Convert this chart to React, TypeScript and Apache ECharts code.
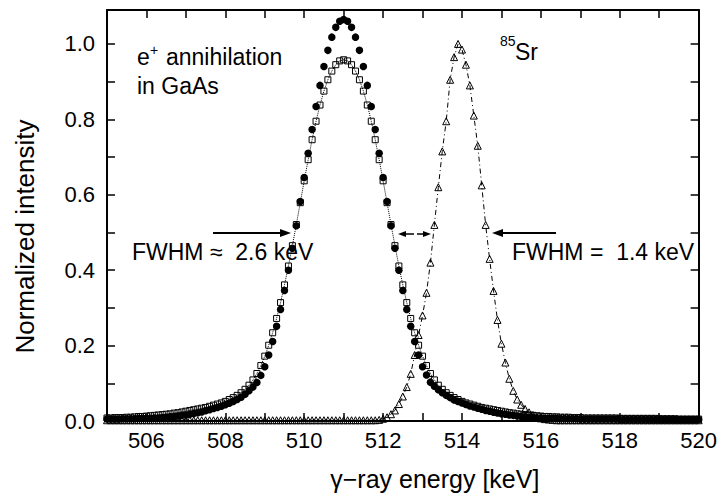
import React, { useEffect, useRef } from "react";
import * as echarts from "echarts";

// γ-ray energy channels [keV]
const energies = [
  505.0, 505.1, 505.2, 505.3, 505.4, 505.5, 505.6, 505.7, 505.8, 505.9,
  506.0, 506.1, 506.2, 506.3, 506.4, 506.5, 506.6, 506.7, 506.8, 506.9,
  507.0, 507.1, 507.2, 507.3, 507.4, 507.5, 507.6, 507.7, 507.8, 507.9,
  508.0, 508.1, 508.2, 508.3, 508.4, 508.5, 508.6, 508.7, 508.8, 508.9,
  509.0, 509.1, 509.2, 509.3, 509.4, 509.5, 509.6, 509.7, 509.8, 509.9,
  510.0, 510.1, 510.2, 510.3, 510.4, 510.5, 510.6, 510.7, 510.8, 510.9,
  511.0, 511.1, 511.2, 511.3, 511.4, 511.5, 511.6, 511.7, 511.8, 511.9,
  512.0, 512.1, 512.2, 512.3, 512.4, 512.5, 512.6, 512.7, 512.8, 512.9,
  513.0, 513.1, 513.2, 513.3, 513.4, 513.5, 513.6, 513.7, 513.8, 513.9,
  514.0, 514.1, 514.2, 514.3, 514.4, 514.5, 514.6, 514.7, 514.8, 514.9,
  515.0, 515.1, 515.2, 515.3, 515.4, 515.5, 515.6, 515.7, 515.8, 515.9,
  516.0, 516.1, 516.2, 516.3, 516.4, 516.5, 516.6, 516.7, 516.8, 516.9,
  517.0, 517.1, 517.2, 517.3, 517.4, 517.5, 517.6, 517.7, 517.8, 517.9,
  518.0, 518.1, 518.2, 518.3, 518.4, 518.5, 518.6, 518.7, 518.8, 518.9,
  519.0, 519.1, 519.2, 519.3, 519.4, 519.5, 519.6, 519.7, 519.8, 519.9,
  520.0,
];

// e+ annihilation in GaAs, filled circles
const annihilationFilled = [
  0.005, 0.005, 0.005, 0.005, 0.006, 0.006, 0.006, 0.006, 0.007, 0.007,
  0.007, 0.007, 0.008, 0.008, 0.009, 0.010, 0.011, 0.012, 0.013, 0.015,
  0.016, 0.018, 0.020, 0.022, 0.024, 0.027, 0.030, 0.033, 0.036, 0.039,
  0.043, 0.047, 0.052, 0.057, 0.063, 0.071, 0.080, 0.090, 0.102, 0.121,
  0.144, 0.175, 0.211, 0.251, 0.296, 0.346, 0.400, 0.458, 0.518, 0.582,
  0.646, 0.710, 0.773, 0.834, 0.890, 0.940, 0.983, 1.018, 1.044, 1.060,
  1.065, 1.060, 1.044, 1.018, 0.983, 0.940, 0.890, 0.834, 0.773, 0.710,
  0.646, 0.582, 0.518, 0.458, 0.400, 0.346, 0.296, 0.251, 0.211, 0.175,
  0.144, 0.122, 0.103, 0.092, 0.083, 0.075, 0.068, 0.062, 0.056, 0.052,
  0.048, 0.044, 0.040, 0.037, 0.034, 0.031, 0.028, 0.026, 0.023, 0.021,
  0.019, 0.018, 0.016, 0.015, 0.013, 0.012, 0.011, 0.010, 0.009, 0.008,
  0.008, 0.007, 0.007, 0.007, 0.007, 0.006, 0.006, 0.006, 0.006, 0.006,
  0.005, 0.005, 0.005, 0.005, 0.005, 0.005, 0.005, 0.005, 0.005, 0.005,
  0.004, 0.004, 0.004, 0.004, 0.004, 0.004, 0.004, 0.004, 0.004, 0.004,
  0.004, 0.004, 0.004, 0.004, 0.004, 0.004, 0.004, 0.004, 0.004, 0.004,
  0.004,
];

// e+ annihilation in GaAs, open squares
const annihilationOpen = [
  0.008, 0.008, 0.009, 0.009, 0.009, 0.010, 0.010, 0.011, 0.012, 0.012,
  0.013, 0.014, 0.015, 0.016, 0.017, 0.018, 0.019, 0.021, 0.022, 0.024,
  0.026, 0.028, 0.030, 0.032, 0.034, 0.036, 0.039, 0.042, 0.045, 0.048,
  0.052, 0.057, 0.062, 0.068, 0.075, 0.084, 0.095, 0.109, 0.126, 0.147,
  0.172, 0.201, 0.234, 0.272, 0.314, 0.361, 0.411, 0.465, 0.521, 0.579,
  0.637, 0.693, 0.746, 0.795, 0.838, 0.875, 0.905, 0.928, 0.945, 0.955,
  0.958, 0.955, 0.945, 0.928, 0.905, 0.875, 0.838, 0.795, 0.746, 0.693,
  0.637, 0.579, 0.521, 0.465, 0.411, 0.361, 0.314, 0.272, 0.234, 0.201,
  0.172, 0.147, 0.126, 0.109, 0.095, 0.084, 0.075, 0.068, 0.062, 0.057,
  0.052, 0.048, 0.045, 0.042, 0.039, 0.036, 0.034, 0.032, 0.030, 0.028,
  0.026, 0.024, 0.022, 0.021, 0.019, 0.018, 0.017, 0.016, 0.015, 0.014,
  0.013, 0.012, 0.012, 0.011, 0.011, 0.010, 0.010, 0.010, 0.009, 0.009,
  0.009, 0.008, 0.008, 0.008, 0.008, 0.008, 0.008, 0.008, 0.008, 0.008,
  0.007, 0.007, 0.007, 0.007, 0.007, 0.007, 0.007, 0.007, 0.007, 0.007,
  0.006, 0.006, 0.006, 0.006, 0.006, 0.005, 0.005, 0.005, 0.005, 0.005,
  0.005,
];

// 85Sr reference line (514 keV), open triangles
const sr85 = [
  0.002, 0.002, 0.002, 0.002, 0.002, 0.002, 0.002, 0.002, 0.002, 0.002,
  0.002, 0.002, 0.002, 0.002, 0.002, 0.002, 0.002, 0.002, 0.002, 0.002,
  0.002, 0.002, 0.002, 0.002, 0.002, 0.002, 0.002, 0.002, 0.002, 0.002,
  0.002, 0.002, 0.002, 0.002, 0.002, 0.002, 0.002, 0.002, 0.002, 0.002,
  0.002, 0.002, 0.002, 0.002, 0.002, 0.002, 0.002, 0.002, 0.002, 0.002,
  0.002, 0.002, 0.002, 0.002, 0.002, 0.002, 0.002, 0.002, 0.002, 0.002,
  0.002, 0.002, 0.002, 0.002, 0.002, 0.002, 0.002, 0.002, 0.002, 0.003,
  0.006, 0.010, 0.018, 0.028, 0.045, 0.065, 0.090, 0.125, 0.175, 0.228,
  0.280, 0.340, 0.420, 0.520, 0.620, 0.715, 0.795, 0.905, 0.965, 1.000,
  0.985, 0.945, 0.890, 0.810, 0.730, 0.625, 0.520, 0.430, 0.345, 0.268,
  0.205, 0.155, 0.112, 0.080, 0.057, 0.043, 0.032, 0.023, 0.016, 0.011,
  0.007, 0.005, 0.004, 0.003, 0.002, 0.002, 0.002, 0.002, 0.002, 0.002,
  0.002, 0.002, 0.002, 0.002, 0.002, 0.002, 0.002, 0.002, 0.002, 0.002,
  0.002, 0.002, 0.002, 0.002, 0.002, 0.002, 0.002, 0.002, 0.002, 0.002,
  0.002, 0.002, 0.002, 0.002, 0.002, 0.002, 0.002, 0.002, 0.002, 0.002,
  0.002,
];

const xMin = 505;
const xMax = 520;
const yMax = 1.09;

const FONT = "'Liberation Sans', Arial, Helvetica, sans-serif";

const pairs = (ys: number[]) => energies.map((x, i) => [x, ys[i]]);

export default function App() {
  const ref = useRef<HTMLDivElement>(null);

  useEffect(() => {
    if (!ref.current) return;
    const chart = echarts.init(ref.current, null, { renderer: "svg" });

    const axisLine = { show: true, onZero: false, lineStyle: { color: "#000", width: 2 } };
    const axisTick = { show: true, inside: true, length: 8, lineStyle: { color: "#000", width: 1.5 } };

    const xLabelFmt = (v: number) => {
      const r = Math.round(v);
      return r % 2 === 0 && r > xMin ? String(r) : "";
    };
    const yLabelFmt = (v: number) => {
      const k = Math.round(v * 10);
      return k % 2 === 0 && v <= 1.0001 ? (k / 10).toFixed(1) : "";
    };

    const txt = (text: string, x: number, y: number, size: number) => ({
      type: "text",
      x,
      y,
      silent: true,
      style: {
        text,
        fill: "#000",
        fontSize: size,
        fontFamily: FONT,
        align: "left",
        verticalAlign: "middle",
      },
    });

    const hline = (x1: number, x2: number, y: number, w: number) => ({
      type: "line",
      silent: true,
      shape: { x1, y1: y, x2, y2: y },
      style: { stroke: "#000", lineWidth: w },
    });
    const head = (tipX: number, y: number, dir: number, len: number, half: number) => ({
      type: "polygon",
      silent: true,
      shape: {
        points: [
          [tipX, y],
          [tipX - dir * len, y - half],
          [tipX - dir * len, y + half],
        ],
      },
      style: { fill: "#000" },
    });

    chart.setOption({
      animation: false,
      backgroundColor: "#fff",
      grid: { left: 107, right: 18, top: 10, bottom: 77, containLabel: false },
      xAxis: [
        {
          type: "value",
          min: xMin,
          max: xMax,
          interval: 1,
          position: "bottom",
          axisLine,
          axisTick,
          splitLine: { show: false },
          axisLabel: {
            formatter: xLabelFmt,
            color: "#000",
            fontSize: 22,
            fontFamily: FONT,
            margin: 8,
          },
          name: "γ−ray energy [keV]",
          nameLocation: "middle",
          nameGap: 45,
          nameTextStyle: {
            color: "#000",
            fontSize: 25,
            fontFamily: FONT,
            padding: [0, 0, 0, 64],
          },
        },
        {
          type: "value",
          min: xMin,
          max: xMax,
          interval: 1,
          position: "top",
          axisLine,
          axisTick,
          splitLine: { show: false },
          axisLabel: { show: false },
        },
      ],
      yAxis: [
        {
          type: "value",
          min: 0,
          max: yMax,
          interval: 0.1,
          position: "left",
          axisLine,
          axisTick,
          splitLine: { show: false },
          axisLabel: {
            formatter: yLabelFmt,
            color: "#000",
            fontSize: 22,
            fontFamily: FONT,
            margin: 12,
          },
          name: "Normalized intensity",
          nameLocation: "middle",
          nameGap: 69,
          nameTextStyle: {
            color: "#000",
            fontSize: 26,
            fontFamily: FONT,
            padding: [0, 42, 0, 0],
          },
        },
        {
          type: "value",
          min: 0,
          max: yMax,
          interval: 0.1,
          position: "right",
          axisLine,
          axisTick,
          splitLine: { show: false },
          axisLabel: { show: false },
        },
      ],
      series: [
        {
          name: "85Sr",
          type: "line",
          data: pairs(sr85),
          symbol: "triangle",
          symbolSize: 7,
          showSymbol: true,
          showAllSymbol: true,
          itemStyle: { color: "rgba(255,255,255,0)", borderColor: "#000", borderWidth: 1 },
          lineStyle: { color: "#000", width: 1, type: [5, 3, 1, 3] },
          emphasis: { disabled: true },
        },
        {
          name: "e+ GaAs (filled)",
          type: "line",
          data: pairs(annihilationFilled),
          symbol: "circle",
          symbolSize: 7.5,
          showSymbol: true,
          showAllSymbol: true,
          itemStyle: { color: "#000" },
          lineStyle: { width: 0, opacity: 0 },
          emphasis: { disabled: true },
        },
        {
          name: "e+ GaAs (open)",
          type: "line",
          data: pairs(annihilationOpen),
          symbol: "rect",
          symbolSize: 6,
          showSymbol: true,
          showAllSymbol: true,
          itemStyle: { color: "rgba(255,255,255,0)", borderColor: "#000", borderWidth: 1 },
          lineStyle: { color: "#000", width: 1, type: "dotted" },
          emphasis: { disabled: true },
        },
      ],
      graphic: [
        txt("e", 137, 57, 23),
        txt("+", 150, 50, 14),
        txt("annihilation", 166, 57, 23),
        txt("in GaAs", 137, 86, 23),
        txt("85", 500, 41, 14),
        txt("Sr", 515, 52, 23),
        txt("FWHM ≈  2.6 keV", 132, 252, 23),
        txt("FWHM =  1.4 keV", 512, 252, 23),
        hline(213, 282, 233, 2),
        head(291, 233, 1, 11, 4),
        hline(556, 502, 233, 2),
        head(492, 233, -1, 11, 4),
        hline(405, 414, 234, 1.5),
        head(398, 234, -1, 8, 3),
        hline(417, 424, 234, 1.5),
        head(431, 234, 1, 8, 3),
      ],
    });

    return () => chart.dispose();
  }, []);

  return (
    <div
      ref={ref}
      style={{ position: "absolute", left: 0, top: 0, width: 720, height: 498 }}
    />
  );
}
